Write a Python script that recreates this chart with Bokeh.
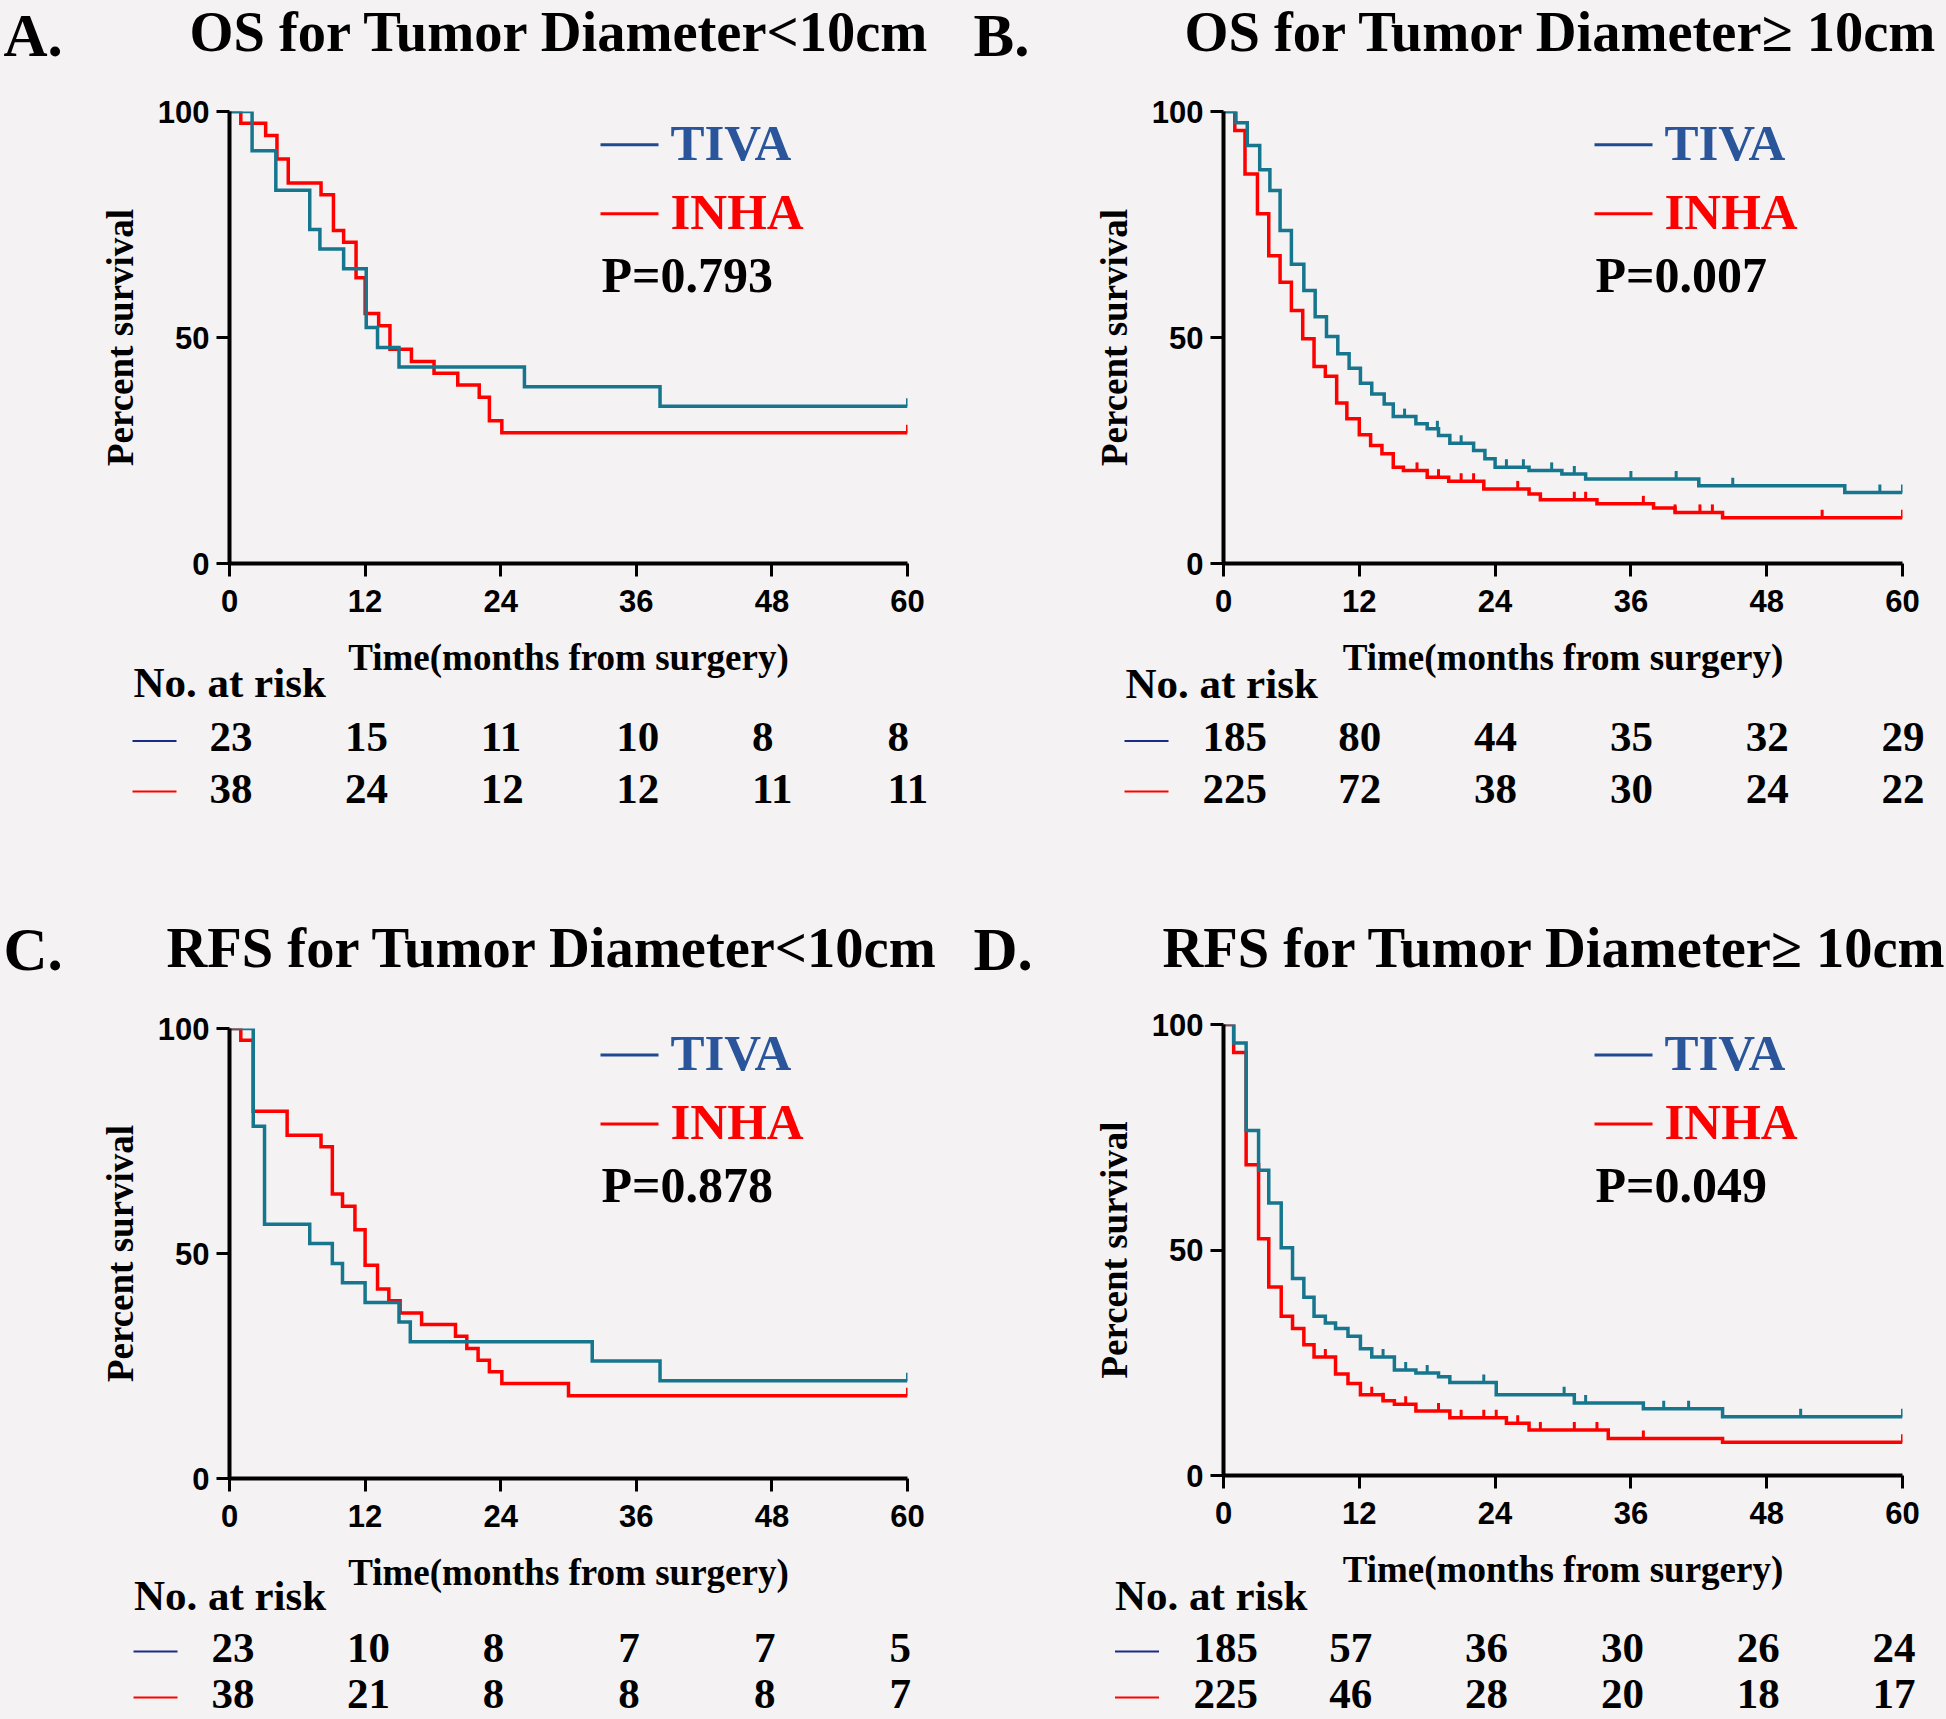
import math
from bokeh.plotting import figure
from bokeh.models import FixedTicker, Range1d
from bokeh.core.properties import value
from bokeh.layouts import column, row
from bokeh.embed import file_html
from bokeh.resources import INLINE

# ---------------- data ----------------
X_TICKS = [0, 12, 24, 36, 48, 60]
Y_TICKS = [0, 50, 100]
GROUPS = ["TIVA", "INHA"]
TITLES = ["OS for Tumor Diameter<10cm", "OS for Tumor Diameter\u2265 10cm",
          "RFS for Tumor Diameter<10cm", "RFS for Tumor Diameter\u2265 10cm"]
LETTERS = ["A.", "B.", "C.", "D."]
P_VALUES = ["P=0.793", "P=0.007", "P=0.878", "P=0.049"]
X_LABEL = "Time(months from surgery)"
Y_LABEL = "Percent survival"
RISK_LABEL = "No. at risk"

# Panel A: OS, tumor < 10 cm
A_TIVA_T = [0, 2.0, 4.1, 7.1, 8.0, 10.1, 12.1, 13.1, 15.0, 26.1, 38.1, 60]
A_TIVA_S = [100, 91.3, 82.6, 73.9, 69.6, 65.2, 52.2, 47.8, 43.5, 39.1, 34.8, 34.8]
A_TIVA_CENS = [60]
A_INHA_T = [0, 1.0, 3.2, 4.2, 5.2, 8.1, 9.2, 10.1, 11.2, 12.0, 13.2, 14.2, 16.1, 18.1, 20.2, 22.1, 23.0, 24.1, 60]
A_INHA_S = [100, 97.4, 94.7, 89.5, 84.2, 81.6, 73.7, 71.1, 63.2, 55.3, 52.6, 47.4, 44.7, 42.1, 39.5, 36.8, 31.6, 28.9, 28.9]
A_INHA_CENS = [60]
A_RISK_TIVA = [23, 15, 11, 10, 8, 8]
A_RISK_INHA = [38, 24, 12, 12, 11, 11]

# Panel B: OS, tumor >= 10 cm
B_TIVA_T = [0, 1.1, 2.1, 3.2, 4.1, 5.0, 6.0, 7.1, 8.1, 9.1, 10.1, 11.1, 12.1, 13.1, 14.2, 15.0, 17.0, 18.0,
            19.0, 20.0, 22.1, 23.1, 24.0, 27.0, 29.9, 32.0, 42.0, 54.9, 60]
B_TIVA_S = [100, 97.5, 92.5, 87.1, 82.5, 73.7, 66.2, 60.4, 54.6, 50.2, 46.4, 43.2, 39.9, 37.5, 35.3, 32.5, 30.9, 29.8,
            28.3, 26.6, 25.0, 23.2, 21.3, 20.6, 19.8, 18.7, 17.2, 15.7, 15.7]
B_TIVA_CENS = [16.0, 18.9, 21.0, 25.0, 26.5, 29.0, 31.0, 36.0, 40.0, 45.0, 58.0, 60]
B_INHA_T = [0, 1.0, 1.9, 3.0, 4.0, 5.0, 6.0, 7.0, 8.0, 9.0, 10.0, 10.9, 12.0, 13.0, 14.0, 15.0, 15.9, 18.0,
            19.9, 23.0, 27.0, 28.0, 33.0, 38.0, 39.9, 44.1, 60]
B_INHA_S = [100, 95.8, 86.2, 77.4, 68.1, 62.2, 56.0, 49.7, 43.6, 41.4, 35.5, 32.0, 28.5, 26.1, 24.3, 21.3, 20.6, 19.1,
            18.2, 16.5, 15.4, 14.1, 13.2, 12.3, 11.3, 10.1, 10.1]
B_INHA_CENS = [17.1, 19.0, 21.0, 22.1, 26.0, 31.0, 32.0, 37.1, 39.9, 42.1, 43.2, 52.9, 60]
B_RISK_TIVA = [185, 80, 44, 35, 32, 29]
B_RISK_INHA = [225, 72, 38, 30, 24, 22]

# Panel C: RFS, tumor < 10 cm
C_TIVA_T = [0, 2.1, 3.1, 7.1, 9.1, 10.0, 12.0, 15.0, 16.0, 32.1, 38.1, 60]
C_TIVA_S = [100, 78.3, 56.5, 52.2, 47.8, 43.5, 39.1, 34.8, 30.4, 26.1, 21.7, 21.7]
C_TIVA_CENS = [60]
C_INHA_T = [0, 1.0, 2.1, 5.1, 8.1, 9.1, 10.0, 11.1, 12.0, 13.1, 14.1, 15.1, 17.0, 20.0, 21.0, 22.0, 23.0, 24.1, 30.0, 60]
C_INHA_S = [100, 97.4, 81.6, 76.3, 73.7, 63.2, 60.5, 55.3, 47.4, 42.1, 39.5, 36.8, 34.2, 31.6, 28.9, 26.3, 23.7, 21.1, 18.4, 18.4]
C_INHA_CENS = [60]
C_RISK_TIVA = [23, 10, 8, 7, 7, 5]
C_RISK_INHA = [38, 21, 8, 8, 8, 7]

# Panel D: RFS, tumor >= 10 cm
D_TIVA_T = [0, 0.9, 2.0, 3.1, 4.0, 5.1, 6.1, 7.1, 8.0, 9.0, 9.9, 11.0, 12.1, 13.1, 15.1, 17.0, 19.0, 20.0,
            24.1, 31.0, 37.1, 44.1, 60]
D_TIVA_S = [100, 95.9, 76.5, 67.7, 60.4, 50.5, 43.7, 39.5, 35.3, 33.8, 32.6, 30.9, 28.1, 26.3, 23.4, 22.7, 21.9, 20.6,
            17.9, 16.1, 14.8, 13.0, 13.0]
D_TIVA_CENS = [14.1, 16.1, 18.0, 23.0, 30.1, 32.0, 38.9, 41.1, 51.0, 60]
D_INHA_T = [0, 0.9, 2.0, 3.1, 4.0, 5.1, 6.1, 7.1, 8.0, 9.9, 11.0, 12.1, 14.1, 15.1, 17.0, 20.0, 25.0, 27.0,
            34.0, 44.1, 60]
D_INHA_S = [100, 93.8, 68.9, 52.5, 41.8, 35.3, 32.6, 29.0, 26.3, 22.5, 20.4, 17.9, 16.6, 15.8, 14.3, 12.8, 11.6, 10.1,
            8.2, 7.4, 7.4]
D_INHA_CENS = [9.0, 13.1, 14.1, 16.1, 19.0, 21.0, 23.0, 24.1, 26.0, 28.0, 31.0, 33.0, 37.1, 60]
D_RISK_TIVA = [185, 57, 36, 30, 26, 24]
D_RISK_INHA = [225, 46, 28, 20, 18, 17]

# ---------------- style ----------------
BG = "#f4f2f3"
TEAL = "#16768e"
RED = "#ff0000"
LEG_BLUE_LINE = "#1e4b8f"
LEG_BLUE_TEXT = "#2a559a"
RISK_BLUE = "#1c2c86"
SERIF = "Liberation Serif"
SANS = "Liberation Sans"
BASE_SHIFT = 0.34   # em; alphabetic-baseline correction measured on the rendered page
CURVE_W = 3.5

# layout of each panel (pixels): strips heights, frame borders, text offsets
ROW_H = [(78, 547, 234), (136, 545, 179)]
PANELS = [
    dict(r=0, w=973, ml=229, mr=66, mt=33, mb=62,
         letter=(-226, 55.5), title=(-40, 50.5), leg_top=33.3,
         xlab_y=44.5, risk_lab=(-96, 72), dash=(-97, -53, 115.5, 166), num_dx=-20, num_y=(126.5, 178.6)),
    dict(r=0, w=973, ml=250, mr=44, mt=33, mb=62,
         letter=(-250, 55.5), title=(-39, 50.5), leg_top=33.3,
         xlab_y=45, risk_lab=(-98, 72.7), dash=(-99, -55, 115.5, 166), num_dx=-21, num_y=(126.5, 178.6)),
    dict(r=1, w=973, ml=229, mr=66, mt=33, mb=62,
         letter=(-226, 110.6), title=(-63, 107.8), leg_top=26.5,
         xlab_y=44.2, risk_lab=(-95.6, 70), dash=(-96, -52, 111, 157), num_dx=-18, num_y=(122, 168)),
    dict(r=1, w=973, ml=250, mr=44, mt=29, mb=65,
         letter=(-250, 110.6), title=(-61, 107.8), leg_top=30.5,
         xlab_y=42, risk_lab=(-108.5, 70), dash=(-108.5, -64.5, 111, 157), num_dx=-30, num_y=(122, 168)),
]

CURVES = [
    (A_TIVA_T, A_TIVA_S, A_TIVA_CENS, A_INHA_T, A_INHA_S, A_INHA_CENS, A_RISK_TIVA, A_RISK_INHA),
    (B_TIVA_T, B_TIVA_S, B_TIVA_CENS, B_INHA_T, B_INHA_S, B_INHA_CENS, B_RISK_TIVA, B_RISK_INHA),
    (C_TIVA_T, C_TIVA_S, C_TIVA_CENS, C_INHA_T, C_INHA_S, C_INHA_CENS, C_RISK_TIVA, C_RISK_INHA),
    (D_TIVA_T, D_TIVA_S, D_TIVA_CENS, D_INHA_T, D_INHA_S, D_INHA_CENS, D_RISK_TIVA, D_RISK_INHA),
]


def surv_at(ts, ss, t):
    v = ss[0]
    for ti, si in zip(ts, ss):
        if ti <= t:
            v = si
    return v


def style_bare(f):
    f.background_fill_color = BG
    f.border_fill_color = BG
    f.outline_line_color = None
    for g in f.grid:
        g.visible = False


def put_text(f, x, y, text, size, color="black", align="left", font=SERIF):
    f.text(x=[x], y=[y], text=[text], text_font=value(font), text_font_style="bold",
           text_font_size=value(f"{size}px"), text_color=color, text_align=align,
           text_baseline="alphabetic")


def make_strip(cfg, height, fw):
    pxx = fw / 60.0
    x0 = -cfg["ml"] / pxx
    x1 = (cfg["w"] - cfg["ml"]) / pxx
    s = figure(width=cfg["w"], height=height, x_range=Range1d(x0, x1), y_range=Range1d(height, 0),
               output_backend="svg", toolbar_location=None, x_axis_location=None, y_axis_location=None,
               min_border_left=0, min_border_right=0, min_border_top=0, min_border_bottom=0,
               frame_align=False)
    style_bare(s)
    return s


def strip_text(s, x, baseline_y, text, size, color="black", align="left"):
    # strip y axis runs downward in pixels
    put_text(s, x, baseline_y - BASE_SHIFT * size, text, size, color=color, align=align)


def make_panel(i):
    cfg = PANELS[i]
    tv_t, tv_s, tv_c, ih_t, ih_s, ih_c, risk_tv, risk_ih = CURVES[i]
    h_title, h_plot, h_risk = ROW_H[cfg["r"]]
    fw = cfg["w"] - cfg["ml"] - cfg["mr"]
    fh = h_plot - cfg["mt"] - cfg["mb"]
    pxx = fw / 60.0

    def X(dx):
        return dx / pxx

    # ---- title strip ----
    ts = make_strip(cfg, h_title, fw)
    strip_text(ts, X(cfg["letter"][0]), cfg["letter"][1], LETTERS[i], 61)
    strip_text(ts, X(cfg["title"][0]), cfg["title"][1], TITLES[i], 56.5)

    # ---- survival plot ----
    p = figure(width=cfg["w"], height=h_plot, x_range=Range1d(0, 60), y_range=Range1d(0, 100),
               output_backend="svg", toolbar_location=None, frame_align=False,
               min_border_left=cfg["ml"], min_border_right=cfg["mr"],
               min_border_top=cfg["mt"], min_border_bottom=cfg["mb"])
    style_bare(p)
    p.xaxis.ticker = FixedTicker(ticks=X_TICKS)
    p.yaxis.ticker = FixedTicker(ticks=Y_TICKS)
    for ax in (p.xaxis[0], p.yaxis[0]):
        ax.axis_line_width = 4
        ax.axis_line_color = "black"
        ax.major_tick_line_width = 3
        ax.major_tick_line_color = "black"
        ax.major_tick_out = 13
        ax.major_tick_in = 0
        ax.minor_tick_line_color = None
        ax.major_label_text_font = SANS
        ax.major_label_text_font_style = "bold"
        ax.major_label_text_font_size = "31px"
        ax.major_label_text_color = "black"
    p.xaxis.major_label_standoff = 13
    p.yaxis.major_label_standoff = 7
    p.yaxis.axis_label = Y_LABEL
    p.yaxis.axis_label_text_font = SERIF
    p.yaxis.axis_label_text_font_style = "bold"
    p.yaxis.axis_label_text_font_size = "37px"
    p.yaxis.axis_label_text_color = "black"
    p.yaxis.axis_label_standoff = 14

    def PY(dy):
        return 100.0 - dy * 100.0 / fh

    tick_h = 8 * 100.0 / fh
    for tt, ss, cs, col in ((ih_t, ih_s, ih_c, RED), (tv_t, tv_s, tv_c, TEAL)):
        p.step(x=tt, y=ss, mode="after", line_color=col, line_width=CURVE_W, line_join="miter")
        cy = [surv_at(tt, ss, c) for c in cs]
        p.segment(x0=cs, y0=cy, x1=cs, y1=[v + tick_h for v in cy], line_color=col, line_width=3)

    # legend (inside the frame)
    lt = cfg["leg_top"]
    p.segment(x0=[X(371), X(371)], y0=[PY(lt), PY(lt + 69)], x1=[X(429), X(429)], y1=[PY(lt), PY(lt + 69)],
              line_color=[LEG_BLUE_LINE, RED], line_width=3)
    put_text(p, X(441), PY(lt + 15.5 - BASE_SHIFT * 51), GROUPS[0], 51, color=LEG_BLUE_TEXT)
    put_text(p, X(441), PY(lt + 84.5 - BASE_SHIFT * 51), GROUPS[1], 51, color=RED)
    put_text(p, X(372), PY(lt + 147 - BASE_SHIFT * 50), P_VALUES[i], 50)

    # ---- risk strip ----
    rs = make_strip(cfg, h_risk, fw)
    strip_text(rs, X(fw / 2.0), cfg["xlab_y"], X_LABEL, 37, align="center")
    strip_text(rs, X(cfg["risk_lab"][0]), cfg["risk_lab"][1], RISK_LABEL, 43)
    d0, d1, dy1, dy2 = cfg["dash"]
    rs.segment(x0=[X(d0), X(d0)], y0=[dy1, dy2], x1=[X(d1), X(d1)], y1=[dy1, dy2],
               line_color=[RISK_BLUE, RED], line_width=2)
    for t, n1, n2 in zip(X_TICKS, risk_tv, risk_ih):
        strip_text(rs, t + X(cfg["num_dx"]), cfg["num_y"][0], str(n1), 43)
        strip_text(rs, t + X(cfg["num_dx"]), cfg["num_y"][1], str(n2), 43)

    return column(ts, p, rs, spacing=0, styles={"background-color": BG})


cols = [make_panel(i) for i in range(4)]
layout = column(row(cols[0], cols[1], spacing=0, styles={"background-color": BG}),
                row(cols[2], cols[3], spacing=0, styles={"background-color": BG}),
                spacing=0, styles={"background-color": BG})
open("out.html", "w").write(file_html(layout, INLINE))
